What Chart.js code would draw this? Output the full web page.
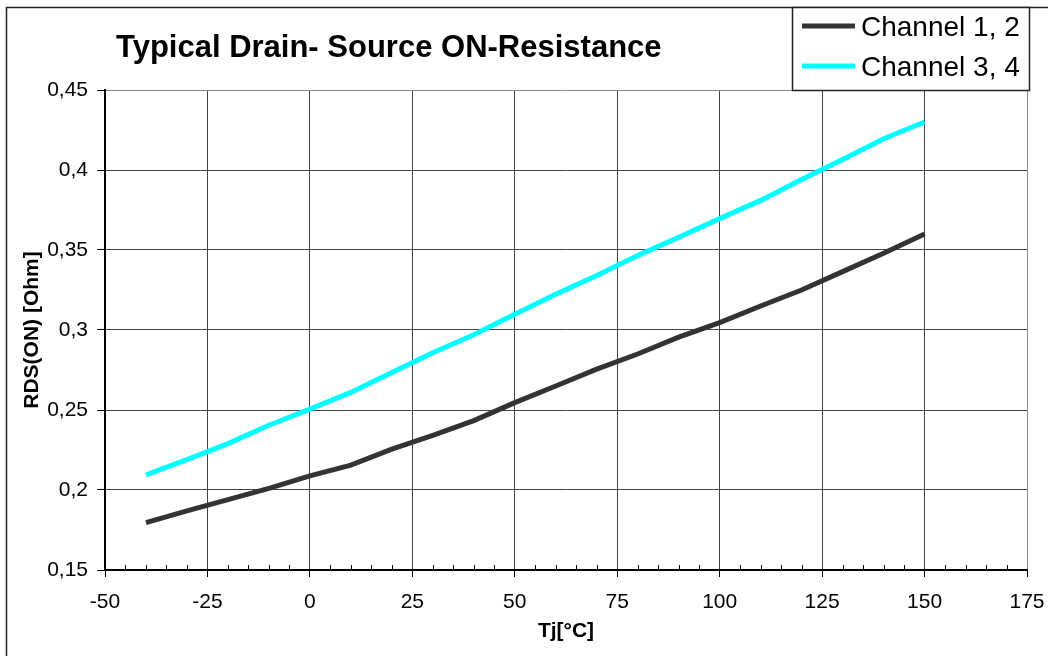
<!DOCTYPE html>
<html>
<head>
<meta charset="utf-8">
<script src="https://cdn.jsdelivr.net/npm/chart.js@4.4.1/dist/chart.umd.min.js"></script>
<style>
  html, body { margin: 0; padding: 0; background: #fff; }
  canvas { display: block; }
</style>
</head>
<body>
<canvas id="rdson-chart" width="1048" height="656"></canvas>
<script>
// Junction temperature [°C]
const temps = [-40, -30, -20, -10, 0, 10, 20, 30, 40, 50, 60, 70, 80, 90, 100, 110, 120, 130, 140, 150];
// RDS(ON) [Ohm] per channel pair
const channel12 = [0.1796, 0.187, 0.194, 0.201, 0.2088, 0.2155, 0.2255, 0.2342, 0.2434, 0.2546, 0.265, 0.2755, 0.285, 0.2955, 0.3046, 0.315, 0.325, 0.3365, 0.348, 0.360];
const channel34 = [0.2094, 0.219, 0.229, 0.2405, 0.2505, 0.261, 0.2735, 0.2858, 0.297, 0.3098, 0.3223, 0.334, 0.3465, 0.358, 0.3696, 0.381, 0.394, 0.4065, 0.4195, 0.430];
const seriesNames = ['Channel 1, 2', 'Channel 3, 4'];
const chartTitle = 'Typical Drain- Source ON-Resistance';
const xTitle = 'Tj[°C]';
const yTitle = 'RDS(ON) [Ohm]';

const FONT = "'Liberation Sans', Arial, sans-serif";

function toPoints(values) {
    return temps.map((t, i) => ({ x: t, y: values[i] }));
}

// Frame, title, legend box and the small inner x ticks
const decorations = {
    id: 'decorations',
    beforeDraw(chart) {
        const ctx = chart.ctx;
        ctx.save();
        ctx.fillStyle = '#ffffff';
        ctx.fillRect(0, 0, chart.width, chart.height);
        ctx.restore();
    },
    afterDraw(chart) {
        const ctx = chart.ctx;
        const xScale = chart.scales.x;
        const bottom = chart.chartArea.bottom;
        ctx.save();

        // minor ticks every 5 degrees, pointing up into the plot
        ctx.strokeStyle = '#000';
        ctx.lineWidth = 1;
        ctx.beginPath();
        for (let v = xScale.min + 5; v < xScale.max; v += 5) {
            if (v % 25 === 0) continue;
            const px = Math.round(xScale.getPixelForValue(v)) + 0.5;
            ctx.moveTo(px, bottom);
            ctx.lineTo(px, bottom - 5);
        }
        ctx.stroke();

        // outer frame (left and top edges)
        ctx.strokeStyle = '#222';
        ctx.lineWidth = 1.5;
        ctx.beginPath();
        ctx.moveTo(6.5, chart.height);
        ctx.lineTo(6.5, 7.5);
        ctx.lineTo(chart.width, 7.5);
        ctx.stroke();

        // title
        ctx.fillStyle = '#000';
        ctx.font = 'bold 31px ' + FONT;
        ctx.textAlign = 'left';
        ctx.textBaseline = 'alphabetic';
        ctx.fillText(chartTitle, 116, 57);

        // legend box
        ctx.fillStyle = '#fff';
        ctx.fillRect(792, 7, 237, 83);
        ctx.strokeStyle = '#222';
        ctx.lineWidth = 1.5;
        ctx.strokeRect(792.5, 7.5, 237, 83);
        ctx.font = '28px ' + FONT;
        chart.data.datasets.forEach((ds, i) => {
            const yy = 26 + i * 40;
            ctx.strokeStyle = ds.borderColor;
            ctx.lineWidth = 5;
            ctx.beginPath();
            ctx.moveTo(802, yy);
            ctx.lineTo(855, yy);
            ctx.stroke();
            ctx.fillStyle = '#000';
            ctx.fillText(ds.label, 861, 36 + i * 40);
        });
        ctx.restore();
    }
};

const ctx = document.getElementById('rdson-chart').getContext('2d');
new Chart(ctx, {
    type: 'line',
    data: {
        datasets: [
            {
                label: seriesNames[0],
                data: toPoints(channel12),
                borderColor: '#333333',
                borderWidth: 5,
                pointRadius: 0,
                tension: 0,
                fill: false
            },
            {
                label: seriesNames[1],
                data: toPoints(channel34),
                borderColor: '#00ffff',
                borderWidth: 5,
                pointRadius: 0,
                tension: 0,
                fill: false
            }
        ]
    },
    options: {
        responsive: false,
        animation: false,
        devicePixelRatio: 1,
        layout: {
            padding: { top: 90, right: 21, bottom: 0, left: 0 }
        },
        plugins: {
            legend: { display: false },
            title: { display: false },
            tooltip: { enabled: false }
        },
        scales: {
            x: {
                type: 'linear',
                min: -50,
                max: 175,
                afterFit: (scale) => {
                    scale.height = 86;
                    scale.paddingLeft = 0;
                    scale.paddingRight = 0;
                },
                ticks: {
                    stepSize: 25,
                    color: '#000',
                    padding: 13,
                    maxRotation: 0,
                    font: { family: FONT, size: 21 }
                },
                grid: {
                    color: (c) => (c.tick && c.tick.value === 175 ? '#888888' : '#444444'),
                    tickColor: '#000',
                    tickLength: 7,
                    lineWidth: 1
                },
                border: { color: '#000', width: 2 },
                title: {
                    display: true,
                    text: xTitle,
                    color: '#000',
                    padding: { top: 0, bottom: 12 },
                    font: { family: FONT, size: 21, weight: 'bold' }
                }
            },
            y: {
                type: 'linear',
                min: 0.15,
                max: 0.45,
                afterFit: (scale) => { scale.width = 105; },
                ticks: {
                    stepSize: 0.05,
                    color: '#000',
                    padding: 9,
                    font: { family: FONT, size: 21 },
                    callback: (v) => Number(v.toFixed(2)).toString().replace('.', ',')
                },
                grid: {
                    color: (c) => (c.tick && Math.abs(c.tick.value - 0.45) < 1e-6 ? '#888888' : '#444444'),
                    tickColor: '#000',
                    tickLength: 8,
                    lineWidth: 1
                },
                border: { color: '#000', width: 2 },
                title: {
                    display: true,
                    text: yTitle,
                    color: '#000',
                    padding: { top: 20, bottom: 0 },
                    font: { family: FONT, size: 21, weight: 'bold' }
                }
            }
        }
    },
    plugins: [decorations]
});
</script>
</body>
</html>
